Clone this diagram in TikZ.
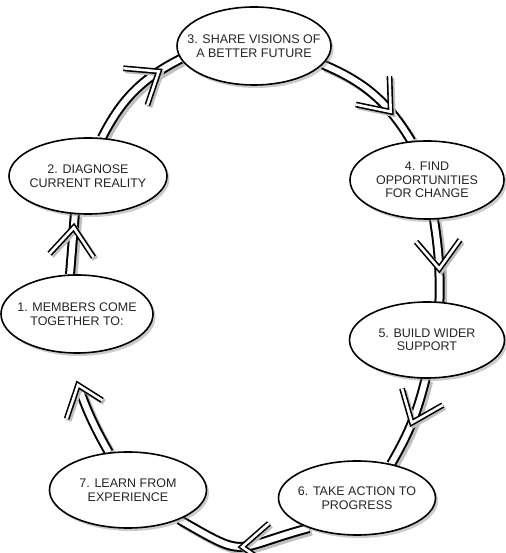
\documentclass[tikz,border=0pt]{standalone}
\usepackage{fontspec}
\setmainfont{Liberation Sans}
\usepackage{tikz}
\usetikzlibrary{shapes.geometric, shadows, decorations.markings, backgrounds}

\begin{document}
\begin{tikzpicture}[
        x=1pt, y=1pt,
        stage/.style={ellipse, draw, line width=1.6pt, fill=white, text=black!85,
            minimum width=155pt, minimum height=76pt, inner xsep=-25pt, inner ysep=0pt,
            align=center, font=\fontsize{12.5}{13.5}\selectfont,
            drop shadow={opacity=0.4, shadow xshift=2.5pt, shadow yshift=-3pt}},
        cyclearrow/.style={draw, line width=2pt, double=white, double distance=6pt,
            preaction={draw=black!25, line width=10pt,
                transform canvas={shift={(2.5pt,-2.5pt)}}}},
        chevron/.style={draw, line width=1.6pt, double=white, double distance=2.6pt,
            line join=miter,
            preaction={draw=black!25, line width=5.8pt, line join=miter,
                transform canvas={shift={(2pt,-2pt)}}}},
        chevron at/.style={postaction={decorate, decoration={markings,
            mark=at position #1 with {\draw[chevron] (-28pt,22pt) -- (0pt,0pt) -- (-28pt,-22pt);}}}}
    ]
    \useasboundingbox (0,0) rectangle (505,553);

    % stages of the cycle
    \node[stage, minimum width=152pt, minimum height=78pt] (n1) at (77,239) {1. MEMBERS COME\\TOGETHER TO:};
    \node[stage, minimum width=158pt] (n2) at (88,377) {2. DIAGNOSE\\CURRENT REALITY};
    \node[stage, minimum width=154pt, minimum height=78pt] (n3) at (254,507) {3. SHARE VISIONS OF\\A BETTER FUTURE};
    \node[stage, minimum width=154pt, minimum height=78pt] (n4) at (427,373) {4. FIND\\OPPORTUNITIES\\FOR CHANGE};
    \node[stage] (n5) at (427,213) {5. BUILD WIDER\\SUPPORT};
    \node[stage, minimum width=157pt, minimum height=74pt] (n6) at (357,55) {6. TAKE ACTION TO\\PROGRESS};
    \node[stage, minimum width=157pt] (n7) at (128,63) {7. LEARN FROM\\EXPERIENCE};
    \coordinate (ret) at (78,168);

    % arrows round the cycle
    \begin{scope}[on background layer]
    \draw[cyclearrow, chevron at=0.78] (n1.100) -- (n2.251);
    \draw[cyclearrow, chevron at=0.78] (n2.70) to[bend left=18] (n3.190);
    \draw[cyclearrow, chevron at=0.7] (n3.345) to[bend left=18] (n4.112);
    \draw[cyclearrow, chevron at=0.6] (n4.280) to[bend left=5] (n5.72);
    \draw[cyclearrow, chevron at=0.5] (n5.268) to[bend left=8] (n6.45);
    \draw[cyclearrow, chevron at=0.5] (n6.212) to[out=195, in=-30, looseness=1.6] (n7.330);
    \draw[cyclearrow, shorten >=7pt, chevron at=1] (n7.117) to[bend left=5] (ret);
    \end{scope}

\end{tikzpicture}
\end{document}
